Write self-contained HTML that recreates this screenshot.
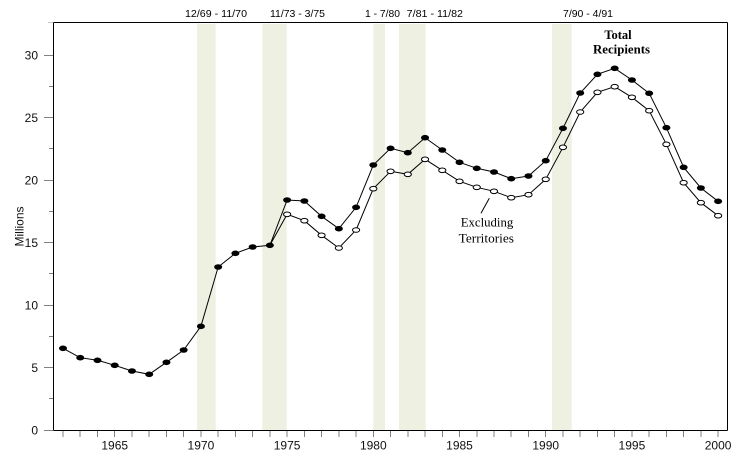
<!DOCTYPE html>
<html><head><meta charset="utf-8"><style>
html,body{margin:0;padding:0;background:#fff;}
svg{display:block;}
</style></head><body>
<svg width="755" height="470" viewBox="0 0 755 470" xmlns="http://www.w3.org/2000/svg">
<rect width="755" height="470" fill="#fff"/>
<!-- recession bands -->
<g fill="#eef0e1">
<rect x="197" y="24" width="18.7" height="406"/>
<rect x="262.3" y="24" width="24.4" height="406"/>
<rect x="373.3" y="24" width="11.7" height="406"/>
<rect x="399" y="24" width="26.7" height="406"/>
<rect x="552" y="24" width="19.7" height="406"/>
</g>
<!-- band labels -->
<g font-family="Liberation Sans, Arial, sans-serif" font-size="10.5" fill="#000">
<text x="185" y="17" textLength="62" lengthAdjust="spacingAndGlyphs">12/69 - 11/70</text>
<text x="270" y="17" textLength="55" lengthAdjust="spacingAndGlyphs">11/73 - 3/75</text>
<text x="365" y="17" textLength="35" lengthAdjust="spacingAndGlyphs">1 - 7/80</text>
<text x="406.7" y="17" textLength="56.3" lengthAdjust="spacingAndGlyphs">7/81 - 11/82</text>
<text x="563" y="17" textLength="50" lengthAdjust="spacingAndGlyphs">7/90 - 4/91</text>
</g>
<!-- frame -->
<g stroke="#000" stroke-width="1" fill="none" shape-rendering="crispEdges">
<line x1="53.5" y1="22.5" x2="727.5" y2="22.5"/>
<line x1="727.5" y1="22.5" x2="727.5" y2="430.5"/>
<line x1="53.5" y1="22.5" x2="53.5" y2="430.5"/>
<line x1="53.5" y1="430.5" x2="727.5" y2="430.5"/>
</g>
<!-- y ticks -->
<g stroke="#808080" stroke-width="1" shape-rendering="crispEdges">
<line x1="44" y1="430.5" x2="53" y2="430.5"/>
<line x1="44" y1="367.5" x2="53" y2="367.5"/>
<line x1="44" y1="305.5" x2="53" y2="305.5"/>
<line x1="44" y1="242.5" x2="53" y2="242.5"/>
<line x1="44" y1="180.5" x2="53" y2="180.5"/>
<line x1="44" y1="117.5" x2="53" y2="117.5"/>
<line x1="44" y1="55.5" x2="53" y2="55.5"/>
<line x1="49" y1="398.5" x2="53" y2="398.5"/>
<line x1="49" y1="336.5" x2="53" y2="336.5"/>
<line x1="49" y1="273.5" x2="53" y2="273.5"/>
<line x1="49" y1="211.5" x2="53" y2="211.5"/>
<line x1="49" y1="148.5" x2="53" y2="148.5"/>
<line x1="49" y1="86.5" x2="53" y2="86.5"/>
<line x1="48" y1="22.5" x2="53" y2="22.5" stroke="#c8c8c8"/>
</g>
<!-- x ticks -->
<g stroke="#808080" stroke-width="1" shape-rendering="crispEdges">
<line x1="63" y1="431" x2="63" y2="437"/><line x1="80.24" y1="431" x2="80.24" y2="437"/><line x1="97.48" y1="431" x2="97.48" y2="437"/><line x1="114.72" y1="431" x2="114.72" y2="437"/><line x1="131.96" y1="431" x2="131.96" y2="437"/><line x1="149.2" y1="431" x2="149.2" y2="437"/><line x1="166.44" y1="431" x2="166.44" y2="437"/><line x1="183.68" y1="431" x2="183.68" y2="437"/><line x1="200.92" y1="431" x2="200.92" y2="437"/><line x1="218.16" y1="431" x2="218.16" y2="437"/><line x1="235.4" y1="431" x2="235.4" y2="437"/><line x1="252.64" y1="431" x2="252.64" y2="437"/><line x1="269.88" y1="431" x2="269.88" y2="437"/><line x1="287.12" y1="431" x2="287.12" y2="437"/><line x1="304.36" y1="431" x2="304.36" y2="437"/><line x1="321.6" y1="431" x2="321.6" y2="437"/><line x1="338.84" y1="431" x2="338.84" y2="437"/><line x1="356.08" y1="431" x2="356.08" y2="437"/><line x1="373.32" y1="431" x2="373.32" y2="437"/><line x1="390.56" y1="431" x2="390.56" y2="437"/><line x1="407.8" y1="431" x2="407.8" y2="437"/><line x1="425.04" y1="431" x2="425.04" y2="437"/><line x1="442.28" y1="431" x2="442.28" y2="437"/><line x1="459.52" y1="431" x2="459.52" y2="437"/><line x1="476.76" y1="431" x2="476.76" y2="437"/><line x1="494" y1="431" x2="494" y2="437"/><line x1="511.24" y1="431" x2="511.24" y2="437"/><line x1="528.48" y1="431" x2="528.48" y2="437"/><line x1="545.72" y1="431" x2="545.72" y2="437"/><line x1="562.96" y1="431" x2="562.96" y2="437"/><line x1="580.2" y1="431" x2="580.2" y2="437"/><line x1="597.44" y1="431" x2="597.44" y2="437"/><line x1="614.68" y1="431" x2="614.68" y2="437"/><line x1="631.92" y1="431" x2="631.92" y2="437"/><line x1="649.16" y1="431" x2="649.16" y2="437"/><line x1="666.4" y1="431" x2="666.4" y2="437"/><line x1="683.64" y1="431" x2="683.64" y2="437"/><line x1="700.88" y1="431" x2="700.88" y2="437"/><line x1="718.12" y1="431" x2="718.12" y2="437"/>
</g>
<!-- y labels -->
<g font-family="Liberation Sans, Arial, sans-serif" font-size="12" fill="#111" text-anchor="end">
<text x="38" y="434.5">0</text>
<text x="38" y="372">5</text>
<text x="38" y="309.5">10</text>
<text x="38" y="247">15</text>
<text x="38" y="184.5">20</text>
<text x="38" y="122">25</text>
<text x="38" y="59.5">30</text>
</g>
<text transform="translate(23.3,226.5) rotate(-90)" font-family="Liberation Sans, Arial, sans-serif" font-size="12" fill="#111" text-anchor="middle">Millions</text>
<!-- x labels -->
<g font-family="Liberation Sans, Arial, sans-serif" font-size="12" fill="#111" text-anchor="middle">
<text x="114.7" y="449.5">1965</text>
<text x="200.9" y="449.5">1970</text>
<text x="287.1" y="449.5">1975</text>
<text x="373.3" y="449.5">1980</text>
<text x="459.5" y="449.5">1985</text>
<text x="545.7" y="449.5">1990</text>
<text x="631.9" y="449.5">1995</text>
<text x="718.1" y="449.5">2000</text>
</g>
<!-- Excluding territories line -->
<polyline fill="none" stroke="#000" stroke-width="1" points="269.88,245.3 287.12,214.3 304.36,220.7 321.6,235.3 338.84,248 356.08,230 373.32,188.7 390.56,171.3 407.8,174.3 425.04,159.3 442.28,170.3 459.52,181.3 476.76,187.3 494,191.3 511.24,197.7 528.48,194.7 545.72,179.3 562.96,147.3 580.2,112 597.44,92.3 614.68,86.7 631.92,97.3 649.16,110.7 666.4,144.3 683.64,182.7 700.88,202.7 718.12,215.7"/>
<!-- total line -->
<polyline fill="none" stroke="#000" stroke-width="1" points="63,348.3 80.24,357.7 97.48,360.3 114.72,365.3 131.96,371 149.2,374.3 166.44,362.3 183.68,350 200.92,326.3 218.16,267 235.4,253.3 252.64,247 269.88,245.3 287.12,200 304.36,201 321.6,216.3 338.84,228.7 356.08,207.3 373.32,165 390.56,148.3 407.8,152.7 425.04,137.7 442.28,150 459.52,162.3 476.76,168.3 494,172 511.24,178.7 528.48,176 545.72,160.7 562.96,128.3 580.2,93 597.44,74.3 614.68,68.3 631.92,80 649.16,93.3 666.4,127.7 683.64,167.3 700.88,188 718.12,201.3"/>
<!-- open markers -->
<g fill="#fff" stroke="#000" stroke-width="1">
<ellipse cx="287.12" cy="214.3" rx="3.6" ry="2.3"/><ellipse cx="304.36" cy="220.7" rx="3.6" ry="2.3"/><ellipse cx="321.6" cy="235.3" rx="3.6" ry="2.3"/><ellipse cx="338.84" cy="248" rx="3.6" ry="2.3"/><ellipse cx="356.08" cy="230" rx="3.6" ry="2.3"/><ellipse cx="373.32" cy="188.7" rx="3.6" ry="2.3"/><ellipse cx="390.56" cy="171.3" rx="3.6" ry="2.3"/><ellipse cx="407.8" cy="174.3" rx="3.6" ry="2.3"/><ellipse cx="425.04" cy="159.3" rx="3.6" ry="2.3"/><ellipse cx="442.28" cy="170.3" rx="3.6" ry="2.3"/><ellipse cx="459.52" cy="181.3" rx="3.6" ry="2.3"/><ellipse cx="476.76" cy="187.3" rx="3.6" ry="2.3"/><ellipse cx="494" cy="191.3" rx="3.6" ry="2.3"/><ellipse cx="511.24" cy="197.7" rx="3.6" ry="2.3"/><ellipse cx="528.48" cy="194.7" rx="3.6" ry="2.3"/><ellipse cx="545.72" cy="179.3" rx="3.6" ry="2.3"/><ellipse cx="562.96" cy="147.3" rx="3.6" ry="2.3"/><ellipse cx="580.2" cy="112" rx="3.6" ry="2.3"/><ellipse cx="597.44" cy="92.3" rx="3.6" ry="2.3"/><ellipse cx="614.68" cy="86.7" rx="3.6" ry="2.3"/><ellipse cx="631.92" cy="97.3" rx="3.6" ry="2.3"/><ellipse cx="649.16" cy="110.7" rx="3.6" ry="2.3"/><ellipse cx="666.4" cy="144.3" rx="3.6" ry="2.3"/><ellipse cx="683.64" cy="182.7" rx="3.6" ry="2.3"/><ellipse cx="700.88" cy="202.7" rx="3.6" ry="2.3"/><ellipse cx="718.12" cy="215.7" rx="3.6" ry="2.3"/>
</g>
<!-- filled markers -->
<g fill="#000">
<ellipse cx="63" cy="348.3" rx="4" ry="2.8"/><ellipse cx="80.24" cy="357.7" rx="4" ry="2.8"/><ellipse cx="97.48" cy="360.3" rx="4" ry="2.8"/><ellipse cx="114.72" cy="365.3" rx="4" ry="2.8"/><ellipse cx="131.96" cy="371" rx="4" ry="2.8"/><ellipse cx="149.2" cy="374.3" rx="4" ry="2.8"/><ellipse cx="166.44" cy="362.3" rx="4" ry="2.8"/><ellipse cx="183.68" cy="350" rx="4" ry="2.8"/><ellipse cx="200.92" cy="326.3" rx="4" ry="2.8"/><ellipse cx="218.16" cy="267" rx="4" ry="2.8"/><ellipse cx="235.4" cy="253.3" rx="4" ry="2.8"/><ellipse cx="252.64" cy="247" rx="4" ry="2.8"/><ellipse cx="269.88" cy="245.3" rx="4" ry="2.8"/><ellipse cx="287.12" cy="200" rx="4" ry="2.8"/><ellipse cx="304.36" cy="201" rx="4" ry="2.8"/><ellipse cx="321.6" cy="216.3" rx="4" ry="2.8"/><ellipse cx="338.84" cy="228.7" rx="4" ry="2.8"/><ellipse cx="356.08" cy="207.3" rx="4" ry="2.8"/><ellipse cx="373.32" cy="165" rx="4" ry="2.8"/><ellipse cx="390.56" cy="148.3" rx="4" ry="2.8"/><ellipse cx="407.8" cy="152.7" rx="4" ry="2.8"/><ellipse cx="425.04" cy="137.7" rx="4" ry="2.8"/><ellipse cx="442.28" cy="150" rx="4" ry="2.8"/><ellipse cx="459.52" cy="162.3" rx="4" ry="2.8"/><ellipse cx="476.76" cy="168.3" rx="4" ry="2.8"/><ellipse cx="494" cy="172" rx="4" ry="2.8"/><ellipse cx="511.24" cy="178.7" rx="4" ry="2.8"/><ellipse cx="528.48" cy="176" rx="4" ry="2.8"/><ellipse cx="545.72" cy="160.7" rx="4" ry="2.8"/><ellipse cx="562.96" cy="128.3" rx="4" ry="2.8"/><ellipse cx="580.2" cy="93" rx="4" ry="2.8"/><ellipse cx="597.44" cy="74.3" rx="4" ry="2.8"/><ellipse cx="614.68" cy="68.3" rx="4" ry="2.8"/><ellipse cx="631.92" cy="80" rx="4" ry="2.8"/><ellipse cx="649.16" cy="93.3" rx="4" ry="2.8"/><ellipse cx="666.4" cy="127.7" rx="4" ry="2.8"/><ellipse cx="683.64" cy="167.3" rx="4" ry="2.8"/><ellipse cx="700.88" cy="188" rx="4" ry="2.8"/><ellipse cx="718.12" cy="201.3" rx="4" ry="2.8"/>
</g>
<!-- annotations -->
<g font-family="Liberation Serif, Times New Roman, serif" fill="#000">
<text x="618" y="39" font-size="12.5" font-weight="bold" text-anchor="middle">Total</text>
<text x="621.5" y="53.5" font-size="12.5" font-weight="bold" text-anchor="middle" textLength="57" lengthAdjust="spacingAndGlyphs">Recipients</text>
<text x="460.7" y="226.5" font-size="13" textLength="52.6" lengthAdjust="spacingAndGlyphs">Excluding</text>
<text x="458.7" y="242.3" font-size="13" textLength="55.3" lengthAdjust="spacingAndGlyphs">Territories</text>
</g>
<line x1="489.3" y1="198.3" x2="481" y2="213.3" stroke="#000" stroke-width="1"/>
</svg>
</body></html>
